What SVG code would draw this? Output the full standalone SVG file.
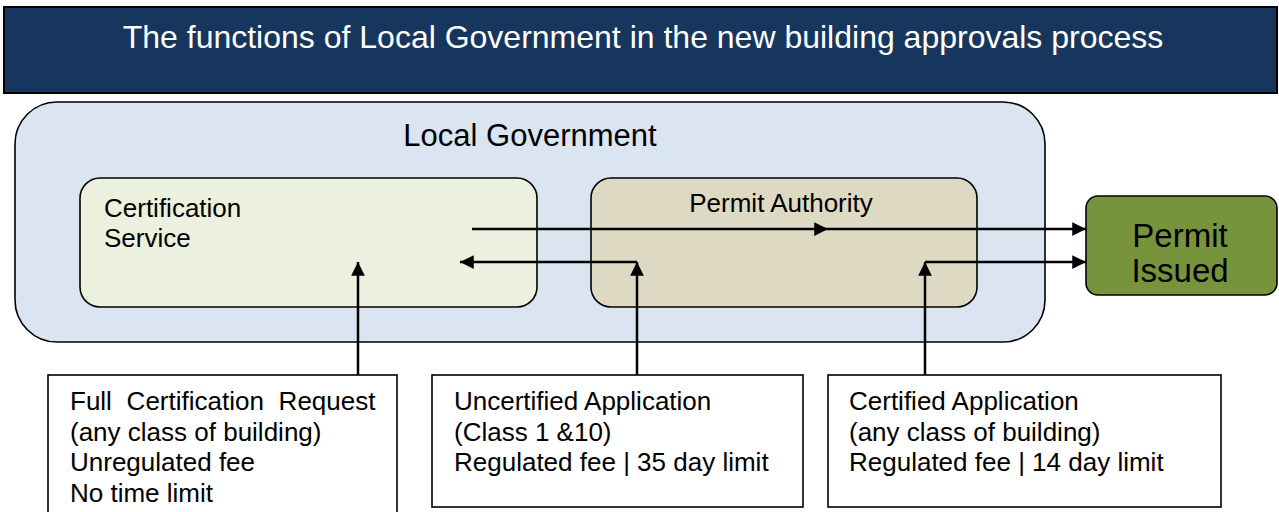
<svg xmlns="http://www.w3.org/2000/svg" width="1279" height="512" viewBox="0 0 1279 512">
<defs>
<style>
text{font-family:"Liberation Sans",Arial,sans-serif;fill:#000}
.ln{stroke:#000;stroke-width:2.5;fill:none}
.bx{stroke:#000;stroke-width:1.6}
.bt{font-size:26px}
</style>
<marker id="ah" viewBox="0 0 10 10" refX="10" refY="5" markerWidth="5.5" markerHeight="5.5" orient="auto" markerUnits="strokeWidth">
<path d="M0,0 L10,5 L0,10 z" fill="#000"/>
</marker>
</defs>
<rect width="1279" height="512" fill="#fff"/>
<g id="header">
<rect x="4" y="7" width="1273" height="86" fill="#17365D" stroke="#000" stroke-width="2"/>
<text x="643" y="48" font-size="32" text-anchor="middle" style="fill:#fff">The functions of Local Government in the new building approvals process</text>
</g>
<g id="local-government">
<rect x="15" y="102" width="1030" height="240" rx="42" fill="#DBE5F1" class="bx"/>
<text x="530" y="146" font-size="31" text-anchor="middle">Local Government</text>
</g>
<g id="certification-service">
<rect x="80" y="178" width="457" height="129" rx="20" fill="#EBF1DE" class="bx"/>
<text x="104" y="217" font-size="26">Certification</text>
<text x="104" y="247" font-size="26">Service</text>
</g>
<g id="permit-authority">
<rect x="591" y="178" width="386" height="129" rx="20" fill="#DDD9C3" class="bx"/>
<text x="781" y="212" font-size="26" text-anchor="middle">Permit Authority</text>
</g>
<g id="permit-issued">
<rect x="1086" y="196" width="191" height="99" rx="12" fill="#77933C" class="bx"/>
<text x="1180" y="247" font-size="33" text-anchor="middle">Permit</text>
<text x="1180" y="282" font-size="33" text-anchor="middle">Issued</text>
</g>
<g id="full-certification-request">
<rect x="48" y="375" width="349" height="140" fill="#fff" class="bx"/>
<text class="bt" x="70" y="410" word-spacing="7.5">Full Certification Request</text>
<text class="bt" x="70" y="441">(any class of building)</text>
<text class="bt" x="70" y="471">Unregulated fee</text>
<text class="bt" x="70" y="502">No time limit</text>
</g>
<g id="uncertified-application">
<rect x="432" y="375" width="371" height="132" fill="#fff" class="bx"/>
<text class="bt" x="454" y="410">Uncertified Application</text>
<text class="bt" x="454" y="441">(Class 1 &amp;10)</text>
<text class="bt" x="454" y="471">Regulated fee | 35 day limit</text>
</g>
<g id="certified-application">
<rect x="828" y="375" width="393" height="132" fill="#fff" class="bx"/>
<text class="bt" x="849" y="410">Certified Application</text>
<text class="bt" x="849" y="441">(any class of building)</text>
<text class="bt" x="849" y="471">Regulated fee | 14 day limit</text>
</g>
<g id="connectors">
<path class="ln" d="M472,229 H828" marker-end="url(#ah)"/>
<path class="ln" d="M828,229 H1086" marker-end="url(#ah)"/>
<path class="ln" d="M637,375 V262" marker-end="url(#ah)"/>
<path class="ln" d="M637,262 H460" marker-end="url(#ah)"/>
<path class="ln" d="M358,375 V262" marker-end="url(#ah)"/>
<path class="ln" d="M925,375 V262" marker-end="url(#ah)"/>
<path class="ln" d="M925,262 H1086" marker-end="url(#ah)"/>
</g>
</svg>
